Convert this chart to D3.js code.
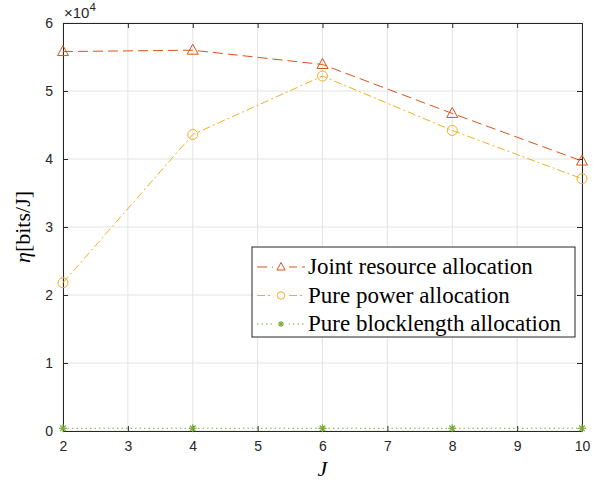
<!DOCTYPE html>
<html>
<head>
<meta charset="utf-8">
<script src="https://cdn.jsdelivr.net/npm/d3@7"></script>
<style>
  body { margin: 0; background: #fff; }
  .axis text { font-family: "Liberation Sans", Arial, sans-serif; font-size: 14px; fill: #262626; }
  .axis path, .axis line { stroke: #262626; }
  .grid line { stroke: #e3e3e3; }
  .serif { font-family: "Liberation Serif", "Times New Roman", serif; fill: #000; }
</style>
</head>
<body>
<div id="chart"></div>
<script>
// data (y values in units of 10^4 bits/J)
const J = [2, 4, 6, 8, 10];
const jointAlloc = [5.58, 5.60, 5.39, 4.67, 3.97];
const powerAlloc = [2.18, 4.36, 5.22, 4.42, 3.71];
const blockAlloc = [0.04, 0.04, 0.04, 0.04, 0.04];
const seriesNames = ["Joint resource allocation", "Pure power allocation", "Pure blocklength allocation"];
const xTicks = [2, 3, 4, 5, 6, 7, 8, 9, 10];
const yTicks = [0, 1, 2, 3, 4, 5, 6];

const W = 605, H = 485;
const margin = { top: 23, right: 23, bottom: 54, left: 63 };
const width = W - margin.left - margin.right;
const height = H - margin.top - margin.bottom;

const svg = d3.select("#chart").append("svg")
    .attr("width", W)
    .attr("height", H)
    .append("g")
    .attr("transform", "translate(" + margin.left + "," + margin.top + ")");

const x = d3.scaleLinear().domain([2, 10]).range([0, width]);
const y = d3.scaleLinear().domain([0, 6]).range([height, 0]);

// grid
svg.append("g").attr("class", "grid")
    .selectAll("line").data(xTicks).join("line")
    .attr("x1", d => x(d)).attr("x2", d => x(d))
    .attr("y1", 0).attr("y2", height);
svg.append("g").attr("class", "grid")
    .selectAll("line").data(yTicks).join("line")
    .attr("x1", 0).attr("x2", width)
    .attr("y1", d => y(d)).attr("y2", d => y(d));

// axes, ticks inside
const tl = 5;
svg.append("g").attr("class", "axis")
    .attr("transform", "translate(0," + height + ")")
    .call(d3.axisBottom(x).tickValues(xTicks).tickSize(-tl).tickPadding(10).tickSizeOuter(0));
svg.append("g").attr("class", "axis")
    .call(d3.axisLeft(y).tickValues(yTicks).tickFormat(d3.format("d")).tickSize(-tl).tickPadding(10).tickSizeOuter(0));
svg.append("g").attr("class", "axis")
    .call(d3.axisTop(x).tickValues(xTicks).tickSize(-tl).tickFormat("").tickSizeOuter(0));
svg.append("g").attr("class", "axis")
    .attr("transform", "translate(" + width + ",0)")
    .call(d3.axisRight(y).tickValues(yTicks).tickSize(-tl).tickFormat("").tickSizeOuter(0));

// exponent label
const ex = svg.append("text")
    .attr("x", 1).attr("y", -5)
    .style("font-family", "Liberation Sans, Arial, sans-serif")
    .style("font-size", "15px").attr("fill", "#262626");
ex.append("tspan").text("\u00d710");
ex.append("tspan").attr("dy", -7).style("font-size", "11.5px").text("4");

const line = d3.line().x((d, i) => x(J[i])).y(d => y(d));

const series = [
    { data: jointAlloc, color: "#D95319", dash: "10,5", marker: "tri" },
    { data: powerAlloc, color: "#EDB120", dash: "8,3,2,3", marker: "circ" },
    { data: blockAlloc, color: "#77AC30", dash: "1.5,3", marker: "star" }
];

function drawMarker(g, type, color, k) {
    if (type === "tri") {
        g.append("path").attr("d", "M0," + (-6 * k) + "L" + (5.5 * k) + "," + (4 * k) + "L" + (-5.5 * k) + "," + (4 * k) + "Z")
            .attr("fill", "none").attr("stroke", color).attr("stroke-width", 1);
    } else if (type === "circ") {
        g.append("circle").attr("r", 5 * k)
            .attr("fill", "none").attr("stroke", color).attr("stroke-width", 1);
    } else {
        const r = 4 * k;
        [[-r, 0, r, 0], [0, -r, 0, r], [-r * 0.7, -r * 0.7, r * 0.7, r * 0.7], [-r * 0.7, r * 0.7, r * 0.7, -r * 0.7]]
            .forEach(s => g.append("line").attr("x1", s[0]).attr("y1", s[1]).attr("x2", s[2]).attr("y2", s[3])
                .attr("stroke", color).attr("stroke-width", 1.2));
    }
}

series.forEach(s => {
    svg.append("path").datum(s.data)
        .attr("d", line)
        .attr("fill", "none")
        .attr("stroke", s.color)
        .attr("stroke-width", 1)
        .attr("stroke-dasharray", s.dash);
    s.data.forEach((d, i) => {
        const g = svg.append("g").attr("transform", "translate(" + x(J[i]) + "," + y(d) + ")");
        drawMarker(g, s.marker, s.color, 1);
    });
});

// axis labels
svg.append("text").attr("class", "serif")
    .attr("x", width / 2).attr("y", height + 45)
    .attr("text-anchor", "middle")
    .style("font-size", "22px").style("font-style", "italic")
    .text("J");
const yl = svg.append("text").attr("class", "serif")
    .attr("transform", "translate(-33," + height / 2 + ") rotate(-90)")
    .attr("text-anchor", "middle")
    .style("font-size", "22px");
yl.append("tspan").style("font-style", "italic").text("\u03b7");
yl.append("tspan").text("[bits/J]");

// legend
const lg = svg.append("g").attr("transform", "translate(" + (252 - margin.left) + "," + (247 - margin.top) + ")");
lg.append("rect").attr("width", 323).attr("height", 90)
    .attr("fill", "#fff").attr("stroke", "#262626").attr("stroke-width", 1);
seriesNames.forEach((name, i) => {
    const s = series[i];
    const yy = 20 + i * 28.5;
    lg.append("line").attr("x1", 5).attr("x2", 53).attr("y1", yy).attr("y2", yy)
        .attr("stroke", s.color).attr("stroke-width", 1).attr("stroke-dasharray", s.dash);
    const g = lg.append("g").attr("transform", "translate(29," + yy + ")");
    g.append("rect").attr("x", -8).attr("y", -6).attr("width", 16).attr("height", 12).attr("fill", "#fff");
    drawMarker(g, s.marker, s.color, 0.75);
    lg.append("text").attr("class", "serif")
        .attr("x", 56).attr("y", yy + 7)
        .style("font-size", "23px")
        .text(name);
});
</script>
</body>
</html>
